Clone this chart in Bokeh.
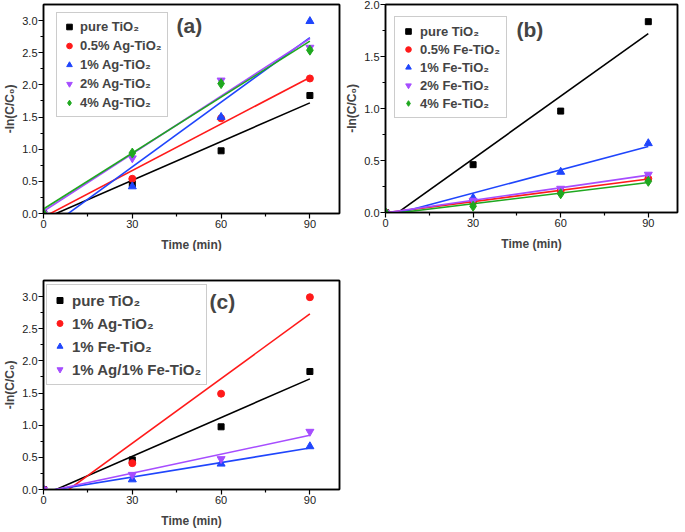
import numpy as np
from bokeh.plotting import figure
from bokeh.models import (FixedTicker, Legend, LegendItem, Label, Range1d,
                          NumeralTickFormatter, LinearAxis)
from bokeh.layouts import column, row
from bokeh.embed import file_html
from bokeh.resources import INLINE

# ---------------- data ----------------
time_min = [0, 30, 60, 90]

x_ticks = [0, 30, 60, 90]
x_minor = [15, 45, 75]
y_ticks_ac = [0.0, 0.5, 1.0, 1.5, 2.0, 2.5, 3.0]
y_minor_ac = [0.25, 0.75, 1.25, 1.75, 2.25, 2.75]
y_ticks_b = [0.0, 0.5, 1.0, 1.5, 2.0]
y_minor_b = [0.25, 0.75, 1.25, 1.75]

# panel (a)
a_labels = ["pure TiO₂", "0.5% Ag-TiO₂", "1% Ag-TiO₂", "2% Ag-TiO₂", "4% Ag-TiO₂"]
a_pure = [0, 0.46, 0.975, 1.835]
a_ag05 = [0, 0.54, 1.48, 2.10]
a_ag1 = [0, 0.42, 1.50, 2.99]
a_ag2 = [0, 0.86, 2.07, 2.58]
a_ag4 = [0, 0.94, 2.02, 2.54]

# panel (b)
b_labels = ["pure TiO₂", "0.5% Fe-TiO₂", "1% Fe-TiO₂", "2% Fe-TiO₂", "4% Fe-TiO₂"]
b_pure = [0, 0.46, 0.975, 1.835]
b_fe05 = [0, 0.10, 0.21, 0.325]
b_fe1 = [0, 0.14, 0.39, 0.665]
b_fe2 = [0, 0.115, 0.23, 0.365]
b_fe4 = [0, 0.06, 0.18, 0.30]

# panel (c)
c_labels = ["pure TiO₂", "1% Ag-TiO₂", "1% Fe-TiO₂", "1% Ag/1% Fe-TiO₂"]
c_pure = [0, 0.46, 0.975, 1.835]
c_ag1 = [0, 0.41, 1.49, 2.99]
c_fe1 = [0, 0.155, 0.40, 0.67]
c_agfe = [0, 0.23, 0.475, 0.90]

# ---------------- style ----------------
FONT = "Liberation Sans"
BLACK, RED, BLUE, PURPLE, GREEN = "#000000", "#ff1a1a", "#1f45fc", "#a64dff", "#1fa81f"
STYLE5 = [("square", BLACK, 6), ("circle", RED, 7), ("triangle", BLUE, 8),
          ("inverted_triangle", PURPLE, 8), ("diamond", GREEN, 10)]
STYLE_C = [("square", BLACK, 6), ("circle", RED, 7), ("triangle", BLUE, 8),
           ("inverted_triangle", PURPLE, 8)]


def frame_axis():
    return LinearAxis(ticker=FixedTicker(ticks=[], minor_ticks=[]),
                      major_label_text_font_size="0px", major_tick_out=0,
                      minor_tick_out=0, major_label_standoff=0,
                      axis_line_width=1.5, axis_line_color="black")


def make_fig(frame_w, frame_h, ymax, yticks, yminor, borders):
    bl, br, bt, bb = borders
    p = figure(frame_width=frame_w, frame_height=frame_h, output_backend="svg",
               toolbar_location=None, x_range=Range1d(0, 100), y_range=Range1d(0, ymax),
               min_border_left=bl, min_border_right=br, min_border_top=bt, min_border_bottom=bb)
    p.grid.visible = False
    p.outline_line_color = "black"
    p.outline_line_width = 1.5
    p.add_layout(frame_axis(), "above")
    p.add_layout(frame_axis(), "right")
    xa, ya = p.below[0], p.left[0]
    xa.ticker = FixedTicker(ticks=x_ticks, minor_ticks=x_minor)
    ya.ticker = FixedTicker(ticks=yticks, minor_ticks=yminor)
    ya.formatter = NumeralTickFormatter(format="0.0")
    for ax in (xa, ya):
        ax.axis_line_width = 1.5
        ax.major_tick_in = 0
        ax.major_tick_out = 5
        ax.minor_tick_in = 0
        ax.minor_tick_out = 3
        ax.major_tick_line_width = 1.2
        ax.minor_tick_line_width = 1.2
        ax.major_label_text_font = FONT
        ax.major_label_text_font_size = "11px"
        ax.major_label_text_color = "#222222"
        ax.major_label_standoff = 1
        ax.axis_label_text_font = FONT
        ax.axis_label_text_font_style = "bold"
        ax.axis_label_text_font_size = "12px"
    xa.axis_label_standoff = 7
    ya.axis_label_standoff = 2
    xa.axis_label = "Time (min)"
    ya.axis_label = "-ln(C/C₀)"
    return p


def add_series(p, series, styles):
    rends = []
    for y, (marker, color, size) in zip(series, styles):
        k, b = np.polyfit(time_min, y, 1)
        xs = [min(time_min), max(time_min)]
        p.line(xs, [k * xx + b for xx in xs], line_color=color, line_width=1.6)
        r = p.scatter(time_min, y, marker=marker, size=size, fill_color=color,
                      line_color=color)
        rends.append(r)
    return rends


def add_legend(p, rends, labels, font_size, padding, gw, gh, spacing, standoff, loc):
    items = [LegendItem(label=l, renderers=[r]) for l, r in zip(labels, rends)]
    leg = Legend(items=items, location=loc, padding=padding, glyph_width=gw,
                 glyph_height=gh, label_height=gh, label_width=10, spacing=spacing,
                 label_standoff=standoff, label_text_font=FONT,
                 label_text_font_style="bold", label_text_font_size=font_size,
                 border_line_color="#9a9a9a", border_line_width=1.2,
                 background_fill_color="white", background_fill_alpha=1.0, margin=0)
    p.add_layout(leg)


def add_tag(p, text, x, y):
    p.add_layout(Label(x=x, y=y, x_units="screen", y_units="screen", text=text,
                       text_font=FONT, text_font_style="bold", text_font_size="21px",
                       text_baseline="middle"))


# panel (a)
pa = make_fig(296, 209, 3.25, y_ticks_ac, y_minor_ac, (38, 3, 1, 38))
ra = add_series(pa, [a_pure, a_ag05, a_ag1, a_ag2, a_ag4], STYLE5)
add_legend(pa, ra, a_labels, "13px", 5, 14, 17, 2, 4, (13, 96))
add_tag(pa, "(a)", 133, 188)

# panel (b)
pb = make_fig(292, 208, 2.0, y_ticks_b, y_minor_b, (37, 2, 4, 36))
rb = add_series(pb, [b_pure, b_fe05, b_fe1, b_fe2, b_fe4], STYLE5)
add_legend(pb, rb, b_labels, "13px", 6, 14, 16, 2, 5, (9, 94))
add_tag(pb, "(b)", 131, 183)

# panel (c)
pc = make_fig(296, 209, 3.25, y_ticks_ac, y_minor_ac, (38, 3, 27, 36))
rc = add_series(pc, [c_pure, c_ag1, c_fe1, c_agfe], STYLE_C)
add_legend(pc, rc, c_labels, "15px", 5, 15, 20, 3, 5, (3, 104))
add_tag(pc, "(c)", 166, 188)

layout = column(row(pa, pb), pc)
open("out.html", "w").write(file_html(layout, INLINE))
